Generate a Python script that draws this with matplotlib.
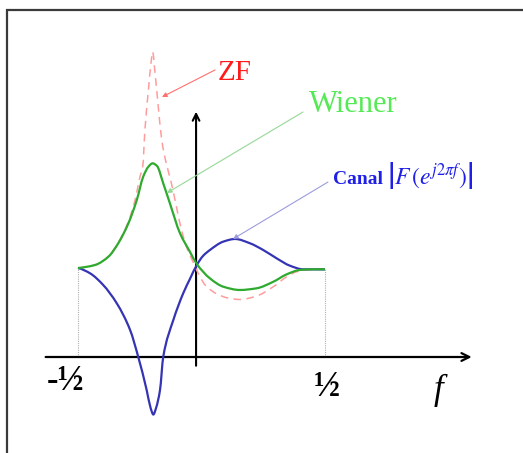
import matplotlib
matplotlib.use("Agg")
import matplotlib.pyplot as plt
from matplotlib.path import Path
from matplotlib.patches import PathPatch, Rectangle

plt.rcParams["mathtext.fontset"] = "stix"

# Normalised frequency f and amplitude (flat level = 1) for each response
canal_f = [-0.5, -0.451, -0.398, -0.343, -0.289, -0.256, -0.222, -0.206, -0.195,
           -0.184, -0.168, -0.155, -0.114, -0.074, -0.047, -0.019, 0.006, 0.034,
           0.088, 0.136, 0.196, 0.250, 0.304, 0.358, 0.412, 0.5]
canal_a = [1.0, 0.940, 0.809, 0.603, 0.303, 0.0, -0.371, -0.573, -0.646,
           -0.573, -0.371, 0.0, 0.416, 0.716, 0.876, 1.034, 1.135, 1.202,
           1.296, 1.326, 1.278, 1.202, 1.109, 1.026, 0.985, 0.985]

wiener_f = [-0.5, -0.431, -0.377, -0.337, -0.296, -0.262, -0.236, -0.215, -0.198,
            -0.180, -0.155, -0.128, -0.087, -0.047, -0.019, 0.034, 0.088, 0.156,
            0.223, 0.291, 0.345, 0.399, 0.447, 0.5]
wiener_a = [1.0, 1.034, 1.127, 1.278, 1.502, 1.764, 2.026, 2.138, 2.176,
            2.146, 1.952, 1.727, 1.390, 1.183, 1.045, 0.884, 0.790, 0.753,
            0.772, 0.846, 0.929, 0.978, 0.985, 0.985]

zf_f = [-0.5, -0.431, -0.377, -0.337, -0.296, -0.269, -0.249, -0.238, -0.229,
        -0.215, -0.204, -0.198, -0.188, -0.175, -0.161, -0.144, -0.123, -0.103,
        -0.083, -0.059, -0.034, -0.010, 0.018, 0.063, 0.107, 0.156, 0.223,
        0.291, 0.345, 0.385, 0.439, 0.5]
zf_a = [1.0, 1.034, 1.129, 1.287, 1.522, 1.764, 2.026, 2.138, 2.551,
        3.0, 3.315, 3.430, 3.188, 2.812, 2.438, 2.191, 1.966, 1.708,
        1.449, 1.225, 1.067, 0.921, 0.798, 0.708, 0.663, 0.646, 0.685,
        0.790, 0.902, 0.958, 0.983, 0.985]

band_edges = [-0.5, 0.5]
band_labels = ["-½", "½"]

W, H = 523, 453
fig = plt.figure(figsize=(W / 100, H / 100), dpi=100)
ax = fig.add_axes([0, 0, 1, 1])
ax.set_xlim(-201.5 / 247, (W - 201.5) / 247)
ax.set_ylim((357 - H) / 89, 357 / 89)
ax.axis("off")


def smooth_path(xs, ys):
    """Shape-preserving (monotone) cubic curve through the points, as Bezier segments."""
    n = len(xs)
    h = [xs[i + 1] - xs[i] for i in range(n - 1)]
    s = [(ys[i + 1] - ys[i]) / h[i] for i in range(n - 1)]
    d = [0.0] * n
    for i in range(1, n - 1):
        if s[i - 1] * s[i] > 0:
            w1 = 2 * h[i] + h[i - 1]
            w2 = h[i] + 2 * h[i - 1]
            d[i] = (w1 + w2) / (w1 / s[i - 1] + w2 / s[i])
    d[0] = s[0] * 0.5
    d[-1] = s[-1] * 0.5
    verts = [(xs[0], ys[0])]
    codes = [Path.MOVETO]
    for i in range(n - 1):
        verts += [(xs[i] + h[i] / 3, ys[i] + d[i] * h[i] / 3),
                  (xs[i + 1] - h[i] / 3, ys[i + 1] - d[i + 1] * h[i] / 3),
                  (xs[i + 1], ys[i + 1])]
        codes += [Path.CURVE4] * 3
    return Path(verts, codes)


# frame
fig.patches.append(Rectangle((7 / W, -0.05), 1.2, 1 - 10.5 / H + 0.05,
                             transform=fig.transFigure, fill=False,
                             edgecolor="#3a3a3a", lw=1.6))

# band edge guides
for fe in band_edges:
    ax.plot([fe, fe], [0, 1], color="#b0b0b0", lw=0.8, ls=(0, (1, 1)), zorder=1)

# axes with arrows
ax.annotate("", xy=(1.094, 0), xytext=(-0.631, 0),
            arrowprops=dict(arrowstyle="->", color="black", lw=1.6,
                            mutation_scale=14, shrinkA=0, shrinkB=0), zorder=2)
ax.annotate("", xy=(-0.022, 2.756), xytext=(-0.022, -0.098),
            arrowprops=dict(arrowstyle="->", color="black", lw=1.5,
                            mutation_scale=12, shrinkA=0, shrinkB=0), zorder=2)

# responses
ax.add_patch(PathPatch(smooth_path(zf_f, zf_a), fill=False, edgecolor="#ff9c9c",
                       lw=1.1, ls=(0, (5, 3.5)), zorder=3))
ax.add_patch(PathPatch(smooth_path(canal_f, canal_a), fill=False, edgecolor="#3434b4",
                       lw=1.6, zorder=4))
ax.add_patch(PathPatch(smooth_path(wiener_f, wiener_a), fill=False, edgecolor="#2eaa2e",
                       lw=1.6, zorder=5))

# labels with leader arrows
ax.annotate("", xy=(-0.160, 2.921), xytext=(0.0547, 3.225),
            arrowprops=dict(arrowstyle="-|>", color="#ff7070", lw=0.8,
                            mutation_scale=7, shrinkA=0, shrinkB=0), zorder=6)
ax.annotate("", xy=(-0.140, 1.843), xytext=(0.411, 2.753),
            arrowprops=dict(arrowstyle="-|>", color="#96d896", lw=0.8,
                            mutation_scale=7, shrinkA=0, shrinkB=0), zorder=6)
ax.annotate("", xy=(0.1275, 1.326), xytext=(0.512, 1.966),
            arrowprops=dict(arrowstyle="-|>", color="#9c9cdc", lw=0.8,
                            mutation_scale=7, shrinkA=0, shrinkB=0), zorder=6)

serif = "Liberation Serif"
fig.text(235 / W, 1 - 73 / H, "ZF", color="#ff1a1a", fontsize=21, family=serif,
         ha="center", va="center")
fig.text(353 / W, 1 - 105 / H, "Wiener", color="#55ea55", fontsize=22, family=serif,
         ha="center", va="center")
fig.text(333 / W, 1 - 184 / H, "Canal", color="#1f1fe6", fontsize=14, family=serif,
         weight="bold", ha="left", va="baseline")
fig.text(387 / W, 1 - 184 / H, r"$\left|F\,(e^{j2\pi f})\right|$", color="#1f1fe6",
         fontsize=17, ha="left", va="baseline")

# frequency tick labels and axis name
for fe, lab, (px, py) in zip(band_edges, band_labels, [(66, 382), (327, 387)]):
    fig.text(px / W, 1 - py / H, lab, fontsize=25, family=serif, weight="bold",
             ha="center", va="center")
fig.text(438 / W, 1 - 390 / H, "f", fontsize=25, family=serif, style="italic",
         ha="center", va="center")

fig.savefig("out.png", dpi=100)
